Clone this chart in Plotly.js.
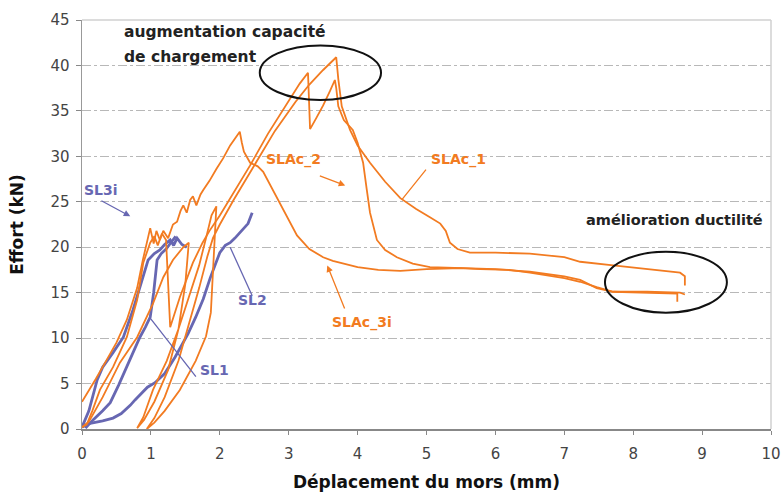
<!DOCTYPE html>
<html>
<head>
<meta charset="utf-8">
<script src="https://cdn.plot.ly/plotly-3.0.1.min.js"></script>
<style>html,body{margin:0;padding:0;background:#fff;}#chart{width:782px;height:492px;}</style>
</head>
<body>
<div id="chart"></div>
<script>
// ---- data ----
const slac1_x = [0, 0.1, 0.3, 0.55, 0.8, 1.03, 1.18, 1.32, 1.47, 1.55, 1.5, 1.4, 1.25, 1.05, 0.9, 0.8,
  0.89, 1.03, 1.23, 1.4, 1.55, 1.7, 1.8, 1.88, 1.95, 1.92, 1.9, 1.87, 1.8, 1.65, 1.42, 1.2, 1.05, 0.94,
  1.05, 1.2, 1.4, 1.55, 1.7, 1.82, 1.9, 2.0, 2.2, 2.5, 2.8, 3.1, 3.3, 3.5, 3.69,
  3.72, 3.77, 3.89, 4.0, 4.18, 4.4, 4.62, 4.85, 5.05, 5.2, 5.28, 5.34, 5.45, 5.63, 6.0, 6.5, 7.0, 7.23, 7.71, 8.2, 8.68, 8.75, 8.75];
const slac1_y = [0.2, 0.8, 3.5, 7.3, 10.1, 13.8, 16.7, 18.6, 20, 20.5, 16, 11, 6.5, 3, 1, 0.1,
  1.3, 4.3, 7.5, 11, 14.5, 18, 21, 23.5, 24.5, 20, 16.5, 12.8, 10.2, 7.5, 4.3, 2, 0.7, 0,
  1.2, 3.5, 7.5, 11.5, 15.5, 19, 21, 22.5, 25.2, 29, 32.8, 36, 37.9, 39.5, 40.9,
  38.5, 35.5, 32.9, 31.2, 29.3, 27.2, 25.4, 24.2, 23.3, 22.6, 21.8, 20.5, 19.8, 19.4, 19.4, 19.3, 18.9, 18.4, 18.0, 17.6, 17.2, 16.8, 15.8];

const slac2_x = [0, 0.07, 0.15, 0.26, 0.45, 0.65, 0.8, 0.89, 0.99, 1.05, 1.1, 1.16, 1.22, 1.26, 1.28,
  1.42, 1.61, 1.75, 1.85, 2.0, 2.2, 2.44, 2.7, 3.0, 3.16, 3.28, 3.31, 3.4, 3.5, 3.6, 3.67,
  3.69, 3.72, 3.8, 3.93, 4.0, 4.08, 4.13, 4.18, 4.28, 4.4, 4.57, 4.8, 5.05, 5.5, 6.0, 6.5, 7.0, 7.23, 7.47, 7.71, 8.2, 8.68, 8.75];
const slac2_y = [0.2, 0.5, 2, 4.3, 6.8, 10.1, 14.2, 18.3, 20.5, 21.2, 20.2, 21.5, 20.8, 15, 11.2,
  14.5, 18.3, 20.5, 21.8, 23.5, 26, 29, 32.5, 36, 38, 39.2, 33, 34.2, 35.6, 37.2, 38.4,
  37.5, 35.5, 34, 32.9, 31.5, 29.3, 26.5, 23.8, 20.8, 19.7, 18.9, 18.2, 17.8, 17.7, 17.6, 17.3, 16.8, 16.4, 15.5, 15.1, 15.1, 15.0, 14.8];

const slac3i_x = [0, 0.1, 0.2, 0.35, 0.5, 0.65, 0.8, 0.88, 0.94, 0.99, 1.04, 1.08, 1.13, 1.18, 1.25, 1.32, 1.38,
  1.43, 1.47, 1.52, 1.57, 1.61, 1.66, 1.72, 1.76, 1.85, 1.95, 2.05, 2.15, 2.22, 2.29, 2.32, 2.35, 2.44, 2.55,
  2.63, 2.7, 2.77, 2.88, 2.98, 3.12, 3.3, 3.5, 3.64, 4.0, 4.3, 4.62, 5.0, 5.5, 5.78, 6.2, 6.5, 7.0, 7.23, 7.47, 7.71, 8.2, 8.64, 8.64];
const slac3i_y = [3.0, 4.2, 5.5, 7.5, 9.5, 12, 15.5, 18.5, 20.5, 22.1, 20.4, 21.8, 20.8, 21.8, 21, 22.5, 22.8,
  24, 24.6, 23.8, 25.2, 25.6, 24.6, 25.8, 26.3, 27.3, 28.6, 29.8, 31.2, 32, 32.7, 31.5, 30.5, 29.3, 28.9,
  28.3, 27.3, 26.3, 24.7, 23.3, 21.3, 19.8, 18.9, 18.5, 17.8, 17.5, 17.4, 17.6, 17.7, 17.6, 17.5, 17.2, 16.6, 16.2, 15.6, 15.1, 15.0, 14.9, 14.0];

const sl3i_x = [0, 0.1, 0.22, 0.3, 0.45, 0.6, 0.74, 0.89, 0.96, 1.05, 1.13, 1.2, 1.28, 1.33, 1.38, 1.45, 1.52];
const sl3i_y = [0.2, 2, 5.4, 6.8, 8.4, 10.1, 13.1, 16.7, 18.6, 19.3, 19.7, 20.3, 20.8, 20.2, 21, 20.3, 20];

const sl1_x = [0.05, 0.16, 0.3, 0.41, 0.53, 0.65, 0.75, 0.84, 0.92, 0.99, 1.04, 1.09, 1.15, 1.22, 1.3, 1.36];
const sl1_y = [0.1, 1, 2, 2.9, 4.8, 6.8, 8.5, 10.1, 11.2, 12.3, 15, 18.6, 19.3, 19.8, 20.6, 21.2];

const sl2_x = [0, 0.1, 0.3, 0.45, 0.57, 0.7, 0.77, 0.86, 0.95, 1.06, 1.2, 1.35, 1.45, 1.54, 1.65, 1.76, 1.86,
  1.95, 2.0, 2.08, 2.15, 2.22, 2.29, 2.35, 2.41, 2.47];
const sl2_y = [0.2, 0.6, 0.9, 1.2, 1.7, 2.6, 3.2, 3.9, 4.6, 5.1, 6.1, 7.9, 9.3, 10.5, 12.3, 14.3, 16.6,
  18.5, 19.4, 20.2, 20.5, 21, 21.6, 22.2, 22.6, 23.8];

const xTickVals = [0, 1, 2, 3, 4, 5, 6, 7, 8, 9, 10];
const yTickVals = [0, 5, 10, 15, 20, 25, 30, 35, 40, 45];

// ---- styles ----
const ORANGE = '#F27B21';
const BLUE = '#6767B2';
const FONT = 'DejaVu Sans';

function orange(x, y) { return {x: x, y: y, type: 'scatter', mode: 'lines', line: {color: ORANGE, width: 1.8}, hoverinfo: 'skip'}; }
function blue(x, y) { return {x: x, y: y, type: 'scatter', mode: 'lines', line: {color: BLUE, width: 2.8}, hoverinfo: 'skip'}; }

const data = [
  blue(sl2_x, sl2_y), blue(sl1_x, sl1_y), blue(sl3i_x, sl3i_y),
  orange(slac1_x, slac1_y), orange(slac2_x, slac2_y), orange(slac3i_x, slac3i_y)
];

function label(text, x, y, color, size) {
  return {text: text, x: x, y: y, xref: 'x', yref: 'y', xanchor: 'left', yanchor: 'middle', showarrow: false,
    font: {family: FONT, size: size, color: color, weight: 'bold'}};
}
function arrow(tx, ty, hx, hy, color, head) {
  return {text: '', x: hx, y: hy, ax: tx, ay: ty, xref: 'x', yref: 'y', axref: 'x', ayref: 'y',
    showarrow: true, arrowhead: head, arrowsize: 1, arrowwidth: 1.3, arrowcolor: color, standoff: 0, startstandoff: 0};
}

const layout = {
  width: 782, height: 492,
  margin: {l: 82, r: 11, t: 20, b: 63},
  paper_bgcolor: '#fff', plot_bgcolor: '#fff',
  showlegend: false,
  font: {family: FONT, color: '#333'},
  xaxis: {
    range: [0, 10], tickvals: xTickVals, ticks: 'outside', ticklen: 4, tickcolor: '#888',
    showline: true, linecolor: '#888', linewidth: 1.5, showgrid: false, zeroline: false,
    ticklabelstandoff: 6,
    tickfont: {family: FONT, size: 15, color: '#444'},
    title: {text: 'Déplacement du mors (mm)', font: {family: FONT, size: 17, color: '#111', weight: 'bold'}, standoff: 16}
  },
  yaxis: {
    range: [0, 45], tickvals: yTickVals, ticks: 'outside', ticklen: 5, tickcolor: '#888',
    showline: true, linecolor: '#999', linewidth: 1.5, showgrid: true, gridcolor: '#b8b8b8', griddash: 'dashdot', gridwidth: 1,
    zeroline: false, ticklabelstandoff: 3,
    tickfont: {family: FONT, size: 15, color: '#444'},
    title: {text: 'Effort (kN)', font: {family: FONT, size: 17, color: '#111', weight: 'bold'}, standoff: 22}
  },
  shapes: [
    {type: 'line', xref: 'paper', yref: 'paper', x0: 0, x1: 1, y0: 1, y1: 1, line: {color: '#d0d0d0', width: 1.5}},
    {type: 'line', xref: 'paper', yref: 'paper', x0: 1, x1: 1, y0: 0, y1: 1, line: {color: '#d0d0d0', width: 1.5}},
    {type: 'circle', xref: 'x', yref: 'y', x0: 2.58, x1: 4.34, y0: 36.2, y1: 42.2, line: {color: '#111', width: 2}},
    {type: 'circle', xref: 'x', yref: 'y', x0: 7.59, x1: 9.36, y0: 12.8, y1: 19.5, line: {color: '#111', width: 2}}
  ],
  annotations: [
    label('augmentation capacité', 0.58, 43.7, '#222', 15.5),
    label('de chargement', 0.58, 40.9, '#222', 15.5),
    label('amélioration ductilité', 7.28, 23.0, '#222', 14.5),
    label('SLAc_2', 2.64, 29.6, ORANGE, 14),
    label('SLAc_1', 5.03, 29.6, ORANGE, 14),
    label('SLAc_3i', 3.6, 11.7, ORANGE, 14),
    label('SL3i', 0.005, 26.3, BLUE, 14),
    label('SL2', 2.24, 14.2, BLUE, 14),
    label('SL1', 1.69, 6.5, BLUE, 14),
    arrow(0.26, 25.2, 0.70, 23.4, BLUE, 2),
    arrow(3.43, 27.9, 3.82, 26.8, ORANGE, 2),
    arrow(3.82, 13.1, 3.56, 18.0, ORANGE, 2),
    arrow(5.01, 28.7, 4.64, 25.2, ORANGE, 0),
    arrow(2.48, 14.5, 2.15, 20.0, BLUE, 0),
    arrow(1.67, 5.6, 0.99, 12.2, BLUE, 0)
  ]
};

Plotly.newPlot('chart', data, layout, {staticPlot: true, displayModeBar: false});
</script>
</body>
</html>
